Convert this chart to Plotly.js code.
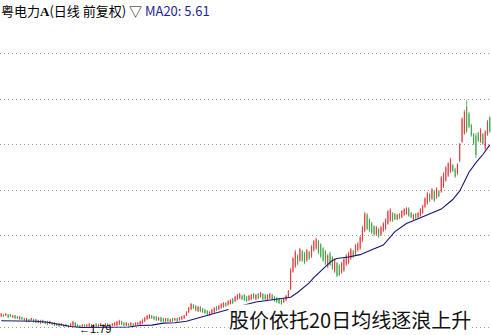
<!DOCTYPE html>
<html><head><meta charset="utf-8">
<script src="https://cdn.plot.ly/plotly-3.0.1.min.js"></script>
<style>html,body{margin:0;padding:0;background:#fff;overflow:hidden}#chart{width:491px;height:335px}</style>
</head><body><div id="chart"></div>
<script>
const openP = [
2.03,2.07,2.05,2.07,2.07,2.01,2.05,2.03,1.97,2.01,
1.99,1.92,1.97,1.95,1.97,1.97,1.90,1.95,1.90,1.93,
1.93,1.88,1.90,1.90,1.84,1.88,1.84,1.86,1.86,1.82,
1.82,1.84,1.90,1.86,1.84,1.82,1.86,1.82,1.82,1.86,
1.82,1.88,1.82,1.84,1.86,1.82,1.88,1.82,1.84,1.84,
1.84,1.86,1.93,1.90,1.84,1.88,1.84,1.88,1.84,1.86,
1.86,1.88,1.93,1.97,1.99,2.05,2.03,2.03,1.95,2.01,
1.99,1.93,1.99,1.92,1.99,1.95,1.99,1.95,1.97,1.99,
2.05,2.12,2.18,2.27,2.25,2.14,2.23,2.19,2.17,2.15,
2.06,2.10,2.12,2.23,2.18,2.21,2.23,2.31,2.27,2.29,
2.40,2.35,2.39,2.41,2.46,2.48,2.44,2.37,2.39,2.50,
2.39,2.50,2.44,2.50,2.48,2.37,2.41,2.48,2.44,2.42,
2.40,2.37,2.33,2.37,2.44,2.60,2.97,3.07,3.30,3.20,
3.39,3.35,3.20,3.37,3.28,3.41,3.45,3.60,3.53,3.45,
3.39,3.07,3.35,3.26,2.97,3.14,3.09,2.95,2.99,3.11,
3.15,3.24,3.39,3.32,3.41,3.45,3.61,3.82,4.15,4.05,
3.97,3.91,3.74,3.85,3.74,3.82,3.86,3.97,4.03,4.18,
4.17,4.06,4.17,4.10,4.15,4.17,4.29,4.19,4.06,4.17,
4.10,4.13,4.19,4.32,4.39,4.58,4.49,4.64,4.51,4.65,
4.64,4.74,4.87,4.97,5.05,5.19,5.10,5.01,5.28,5.68,
5.85,6.40,6.26,6.02,5.83,5.80,5.85,5.68,5.83,5.53,5.83,6.18];
const highP = [
2.10,2.08,2.10,2.08,2.08,2.06,2.06,2.04,2.04,2.02,
2.00,2.00,1.98,2.00,1.98,1.98,1.96,1.96,1.96,1.94,
1.94,1.94,1.91,1.91,1.89,1.89,1.89,1.87,1.87,1.85,
1.89,1.94,1.91,1.87,1.85,1.87,1.87,1.87,1.89,1.87,
1.87,1.89,1.87,1.89,1.87,1.89,1.89,1.87,1.89,1.91,
1.94,1.96,1.94,1.91,1.91,1.89,1.91,1.89,1.91,1.91,
1.94,1.98,2.02,2.06,2.08,2.06,2.04,2.04,2.02,2.02,
2.00,2.00,2.00,1.98,2.00,2.00,2.00,2.02,2.04,2.06,
2.14,2.23,2.31,2.29,2.27,2.25,2.25,2.21,2.19,2.16,
2.14,2.19,2.23,2.25,2.27,2.31,2.33,2.33,2.37,2.39,
2.42,2.46,2.50,2.52,2.48,2.50,2.46,2.48,2.50,2.52,
2.50,2.52,2.54,2.52,2.50,2.50,2.52,2.50,2.46,2.44,
2.42,2.39,2.42,2.48,2.58,3.04,3.27,3.42,3.33,3.46,
3.42,3.38,3.44,3.40,3.52,3.63,3.67,3.63,3.56,3.48,
3.42,3.33,3.38,3.29,3.25,3.17,3.12,3.17,3.25,3.33,
3.38,3.46,3.42,3.54,3.58,3.71,3.92,4.21,4.19,4.08,
4.00,3.94,3.92,3.88,3.92,4.00,4.08,4.25,4.29,4.21,
4.19,4.17,4.19,4.25,4.29,4.31,4.31,4.21,4.17,4.19,
4.21,4.29,4.36,4.52,4.63,4.61,4.71,4.67,4.73,4.67,
4.96,5.04,5.17,5.25,5.34,5.21,5.13,5.23,5.65,6.19,
6.34,6.55,6.30,6.05,5.86,5.86,5.88,5.96,5.86,5.92,6.13,6.21];
const lowP = [
2.02,2.02,2.04,2.00,2.02,2.00,1.98,1.98,1.96,1.96,
1.94,1.91,1.91,1.94,1.91,1.89,1.89,1.87,1.89,1.87,
1.85,1.87,1.85,1.83,1.83,1.81,1.83,1.81,1.81,1.81,
1.81,1.83,1.81,1.81,1.79,1.81,1.81,1.81,1.81,1.81,
1.81,1.81,1.81,1.83,1.81,1.81,1.83,1.81,1.83,1.83,
1.83,1.85,1.85,1.83,1.83,1.83,1.83,1.83,1.83,1.85,
1.85,1.87,1.91,1.96,1.98,1.98,1.96,1.94,1.94,1.91,
1.91,1.91,1.91,1.91,1.91,1.94,1.91,1.94,1.96,1.98,
2.04,2.10,2.16,2.19,2.14,2.12,2.12,2.10,2.08,2.06,
2.04,2.08,2.10,2.14,2.16,2.19,2.21,2.23,2.25,2.27,
2.29,2.33,2.37,2.39,2.37,2.35,2.33,2.35,2.37,2.39,
2.37,2.39,2.42,2.37,2.37,2.35,2.39,2.37,2.33,2.31,
2.29,2.25,2.31,2.35,2.42,2.58,2.94,3.04,3.10,3.17,
3.17,3.12,3.17,3.21,3.25,3.38,3.42,3.33,3.25,3.17,
3.10,3.04,3.08,3.00,2.94,2.85,2.87,2.92,2.96,3.08,
3.12,3.21,3.25,3.29,3.38,3.42,3.58,3.79,3.83,3.79,
3.75,3.71,3.71,3.67,3.71,3.79,3.83,3.94,4.00,4.00,
4.04,4.04,4.06,4.08,4.13,4.15,4.11,4.08,4.04,4.06,
4.08,4.11,4.17,4.29,4.36,4.42,4.46,4.42,4.48,4.52,
4.61,4.71,4.84,4.94,5.02,5.04,4.92,4.98,5.25,5.65,
5.82,5.86,5.96,5.78,5.61,5.34,5.67,5.65,5.61,5.50,5.80,5.86];
const closeP = [
2.09,2.03,2.09,2.01,2.03,2.05,1.99,1.99,2.03,1.97,
1.95,1.99,1.92,1.99,1.92,1.90,1.95,1.88,1.95,1.88,
1.86,1.93,1.86,1.84,1.88,1.82,1.88,1.82,1.82,1.84,
1.88,1.92,1.82,1.82,1.80,1.86,1.82,1.86,1.88,1.82,
1.86,1.82,1.86,1.88,1.82,1.88,1.84,1.86,1.88,1.90,
1.92,1.94,1.86,1.84,1.90,1.84,1.90,1.84,1.90,1.90,
1.93,1.96,2.00,2.04,2.06,1.99,1.97,1.95,2.01,1.93,
1.93,1.99,1.93,1.97,1.93,1.99,1.93,2.01,2.03,2.05,
2.12,2.21,2.29,2.20,2.16,2.23,2.14,2.12,2.10,2.08,
2.12,2.17,2.21,2.16,2.25,2.29,2.31,2.25,2.35,2.37,
2.31,2.44,2.48,2.50,2.39,2.37,2.35,2.46,2.48,2.41,
2.48,2.41,2.52,2.39,2.39,2.48,2.50,2.39,2.35,2.33,
2.31,2.27,2.40,2.46,2.56,3.00,3.24,3.38,3.13,3.43,
3.20,3.15,3.41,3.24,3.49,3.60,3.64,3.36,3.28,3.20,
3.13,3.30,3.11,3.03,3.22,2.88,2.90,3.14,3.22,3.30,
3.35,3.43,3.28,3.51,3.55,3.68,3.89,4.17,3.86,3.82,
3.78,3.74,3.89,3.70,3.89,3.97,4.05,4.22,4.26,4.03,
4.06,4.15,4.08,4.23,4.27,4.29,4.13,4.10,4.15,4.08,
4.19,4.27,4.34,4.49,4.60,4.45,4.68,4.45,4.70,4.54,
4.93,5.01,5.14,5.22,5.31,5.07,4.95,5.20,5.62,6.15,
6.30,5.90,5.99,5.81,5.64,5.40,5.70,5.93,5.64,5.89,6.10,5.89];
const maDay = [0,5,10,15,20,25,30,35,40,45,50,55,60,65,70,75,80,85,90,95,100,105,110,115,120,125,128,130,133,135,138,140,143,145,150,155,160,165,170,175,180,185,190,195,198,200,202,205,208,211];
const maValue = [1.94,1.94,1.93,1.93,1.91,1.87,1.82,1.80,1.80,1.80,1.80,1.81,1.84,1.85,1.89,1.90,1.93,2.00,2.07,2.14,2.21,2.27,2.33,2.36,2.39,2.43,2.53,2.61,2.73,2.84,2.99,3.07,3.20,3.24,3.27,3.32,3.42,3.52,3.80,3.97,4.07,4.17,4.27,4.47,4.65,4.84,5.04,5.24,5.41,5.61];
const gridLevels = [1.81,2.76,3.71,4.66,5.61,6.56,7.51];
const stockName = '粤电力';
const stockClass = 'A';
const stockMode = '(日线 前复权) ▽ ';
const maLabel = 'MA20: 5.61';
const lowLabel = '←1.79';
const lowDay = 34;
const caption = '股价依托20日均线逐浪上升';

const days = openP.map((_, i) => i);
const CJK = '"Noto Sans CJK SC", "Noto Sans", sans-serif';

const traces = [
  {
    type: 'candlestick', x: days, open: openP, high: highP, low: lowP, close: closeP,
    increasing: {line: {color: '#e0262a', width: 0.7}, fillcolor: '#e0262a'},
    decreasing: {line: {color: '#2c9a36', width: 0.7}, fillcolor: '#2c9a36'},
    whiskerwidth: 0, hoverinfo: 'skip', showlegend: false
  },
  {
    type: 'scatter', mode: 'lines', x: maDay, y: maValue,
    line: {color: '#16166e', width: 1.1}, hoverinfo: 'skip', showlegend: false
  }
];

const layout = {
  width: 491, height: 335,
  margin: {l: 0, r: 0, t: 0, b: 0, pad: 0},
  paper_bgcolor: '#ffffff', plot_bgcolor: '#ffffff',
  showlegend: false, boxgap: 0.85,
  xaxis: {range: [-0.5, days.length - 0.5], visible: false, fixedrange: true, rangeslider: {visible: false}},
  yaxis: {range: [1.643, 8.634], tickvals: gridLevels, showticklabels: false, ticks: '',
          showgrid: true, gridcolor: '#9a9a9a', gridwidth: 1, griddash: '1px,3px',
          zeroline: false, showline: false, fixedrange: true},
  annotations: [
    {xref: 'paper', yref: 'paper', x: 0, y: 1, xanchor: 'left', yanchor: 'top', showarrow: false,
     text: stockName + '<span style="font-family:Liberation Serif;font-weight:bold">' + stockClass + '</span>' +
           stockMode + '<span style="color:#1e1e9a">' + maLabel + '</span>',
     font: {family: CJK, size: 13, color: '#000000'}, borderpad: 0, yshift: 0},
    {xref: 'x', yref: 'paper', x: lowDay, y: 0, xanchor: 'left', yanchor: 'bottom', showarrow: false,
     text: lowLabel, font: {family: 'Liberation Sans, Arial, sans-serif', size: 11, color: '#000000'},
     borderpad: 0, xshift: -2, yshift: -1},
    {xref: 'paper', yref: 'paper', x: 0.712, y: 0.045, xanchor: 'center', yanchor: 'middle', showarrow: false,
     text: caption, font: {family: CJK, size: 20, color: '#111111'}, bgcolor: '#ffffff', borderpad: 0}
  ]
};

Plotly.newPlot('chart', traces, layout, {staticPlot: true, displayModeBar: false});
</script>
</body></html>
